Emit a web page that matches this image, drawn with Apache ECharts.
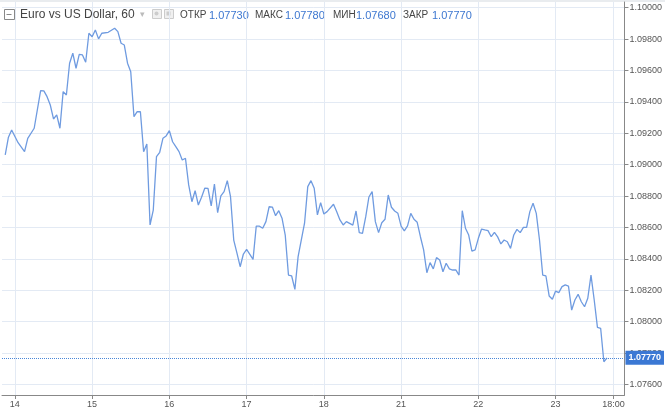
<!DOCTYPE html>
<html>
<head>
<meta charset="utf-8">
<script src="https://cdn.jsdelivr.net/npm/echarts@6/dist/echarts.min.js"></script>
<style>html,body{margin:0;padding:0;background:#fff}#c{width:665px;height:410px}</style>
</head>
<body>
<div id="c"></div>
<script>
// Hours counted in trading time from 14th 00:00 (hourly bars, weekend skipped)
const hours = [-3,-2,-1,1,3,4,6,8,9,10,11,12,13,14,15,16,17,18,19,20,21,22,23,24,25,26,27,29,31,32,33,34,35,36,37,38,39,40,41,42,43,44,45,46,47,48,49,50,51,52,53,54,55,56,57,58,59,60,61,62,63,64,65,66,67,68,69,70,71,72,74,75,76,77,78,79,80,81,82,83,84,85,86,87,88,90,91,92,93,94,95,96,97,99,100,101,102,103,105,106,107,108,109,110,111,112,113,114,115,116,117,118,119,120,121,122,123,124,125,126,127,128,129,130,131,132,133,134,135,136,137,138,139,140,141,142,143,144,145,146,147,148,149,150,151,152,153,154,155,156,157,158,159,160,161,162,163,164,165,166,167,168,169,170,171,172,173,174,175,176,177,178,179,180,181,182,183,184];
const closes = [1.09062,1.09175,1.09221,1.09140,1.09083,1.09168,1.09232,1.09471,1.09470,1.09433,1.09380,1.09291,1.09317,1.09232,1.09465,1.09444,1.09646,1.09710,1.09614,1.09703,1.09699,1.09652,1.09837,1.09815,1.09858,1.09801,1.09837,1.09843,1.09869,1.09847,1.09773,1.09762,1.09646,1.09592,1.09306,1.09338,1.09337,1.09083,1.09132,1.08616,1.08711,1.09051,1.09079,1.09168,1.09183,1.09217,1.09146,1.09115,1.09083,1.09030,1.09041,1.08871,1.08764,1.08834,1.08743,1.08792,1.08850,1.08849,1.08737,1.08877,1.08694,1.08801,1.08828,1.08898,1.08796,1.08520,1.08436,1.08350,1.08431,1.08460,1.08397,1.08609,1.08608,1.08595,1.08637,1.08732,1.08730,1.08675,1.08707,1.08659,1.08552,1.08297,1.08291,1.08206,1.08414,1.08627,1.08860,1.08898,1.08850,1.08680,1.08758,1.08686,1.08701,1.08748,1.08700,1.08648,1.08616,1.08637,1.08615,1.08705,1.08567,1.08563,1.08667,1.08794,1.08828,1.08637,1.08567,1.08630,1.08652,1.08807,1.08729,1.08705,1.08690,1.08609,1.08578,1.08610,1.08690,1.08652,1.08633,1.08541,1.08457,1.08312,1.08376,1.08336,1.08408,1.08393,1.08318,1.08372,1.08336,1.08329,1.08330,1.08297,1.08707,1.08595,1.08552,1.08450,1.08457,1.08531,1.08590,1.08584,1.08580,1.08541,1.08569,1.08540,1.08495,1.08520,1.08509,1.08467,1.08552,1.08588,1.08567,1.08601,1.08600,1.08701,1.08754,1.08690,1.08520,1.08297,1.08291,1.08164,1.08143,1.08195,1.08185,1.08223,1.08234,1.08227,1.08074,1.08138,1.08174,1.08127,1.08095,1.08149,1.08297,1.08138,1.07964,1.07958,1.07745,1.07770];
const tickHours = [0,24,48,72,96,120,144,168,186];
const tickLabels = ['14','15','16','17','18','21','22','23','18:00'];
const priceTicks = [1.076,1.078,1.080,1.082,1.084,1.086,1.088,1.090,1.092,1.094,1.096,1.098,1.100];
const header = {name:'Euro vs US Dollar, 60', open:'1.07730', high:'1.07780', low:'1.07680', close:'1.07770'};
const lastClose = closes[closes.length-1];

const chart = echarts.init(document.getElementById('c'));
const FONT = 'Liberation Sans';
const blue = '#3d77d0';
const labelColor = '#444';
function txt(x, text, color, size){
  return {type:'text', left:x, top:size>=12?9:10, style:{text:text, fill:color, font:size+'px "'+FONT+'"'}};
}
chart.setOption({
  animation:false,
  backgroundColor:'#fff',
  grid:{left:2, right:40, top:2, bottom:15, containLabel:false},
  xAxis:{
    type:'value', min:-4, max:189.4,
    axisLine:{show:true, onZero:false, lineStyle:{color:'#888'}},
    axisTick:{show:true, length:4, lineStyle:{color:'#888'}, customValues:tickHours},
    axisLabel:{customValues:tickHours, color:'#555', fontSize:9, fontFamily:FONT, margin:5,
      formatter:function(v){const i=tickHours.indexOf(Math.round(v)); return i>=0?tickLabels[i]:'';}},
    splitLine:{show:true, lineStyle:{color:'#e3eaf4', width:1}}
  },
  yAxis:{
    type:'value', position:'right', min:1.07533, max:1.10036,
    axisLine:{show:true, onZero:false, lineStyle:{color:'#888'}},
    axisTick:{show:true, length:4, lineStyle:{color:'#888'}, customValues:priceTicks},
    axisLabel:{customValues:priceTicks, color:'#555', fontSize:9, fontFamily:FONT, margin:5,
      formatter:function(v){return v.toFixed(5);}},
    splitLine:{show:true, lineStyle:{color:'#e3eaf4', width:1}}
  },
  series:[{
    type:'line', showSymbol:false, symbol:'none',
    data: hours.map((h,i)=>[h, closes[i]]),
    lineStyle:{color:'#6f9be0', width:1.3},
    markLine:{
      silent:true, symbol:'none', precision:5,
      lineStyle:{type:'dotted', color:'#4a86d8', width:1},
      label:{position:'end', distance:1, formatter:function(p){return Number(p.value).toFixed(5);},
        backgroundColor:'#3b78d4', color:'#fff', fontSize:9, fontWeight:'bold', fontFamily:FONT, padding:[3,3,2,3]},
      data:[{yAxis:lastClose}]
    }
  }],
  graphic:[
    {type:'rect', left:0, top:0, shape:{width:665, height:2}, style:{fill:'#e9ecef'}},
    {type:'rect', left:4, top:9, shape:{width:10, height:10}, style:{fill:'#fff', stroke:'#888', lineWidth:1}},
    {type:'line', shape:{x1:6.5, y1:14.5, x2:11.5, y2:14.5}, style:{stroke:'#888', lineWidth:1}},
    txt(20, header.name, '#444', 12),
    {type:'text', left:140, top:10, style:{text:'▾', fill:'#bbb', font:'9px "DejaVu Sans"'}},
    {type:'rect', left:152, top:9, shape:{width:9, height:9}, style:{fill:'#f0f0f0', stroke:'#ccc', lineWidth:1}},
    {type:'circle', shape:{cx:156.5, cy:13.5, r:2}, style:{fill:'#ccc'}},
    {type:'rect', left:164, top:9, shape:{width:9, height:9}, style:{fill:'#f0f0f0', stroke:'#ccc', lineWidth:1}},
    {type:'rect', left:166.5, top:11.5, shape:{width:4, height:4}, style:{fill:'#ccc'}},
    txt(180, 'ОТКР', labelColor, 10),
    txt(209, header.open, blue, 11),
    txt(255, 'МАКС', labelColor, 10),
    txt(285, header.high, blue, 11),
    txt(333, 'МИН', labelColor, 10),
    txt(356, header.low, blue, 11),
    txt(403, 'ЗАКР', labelColor, 10),
    txt(432, header.close, blue, 11)
  ]
});
</script>
</body>
</html>
